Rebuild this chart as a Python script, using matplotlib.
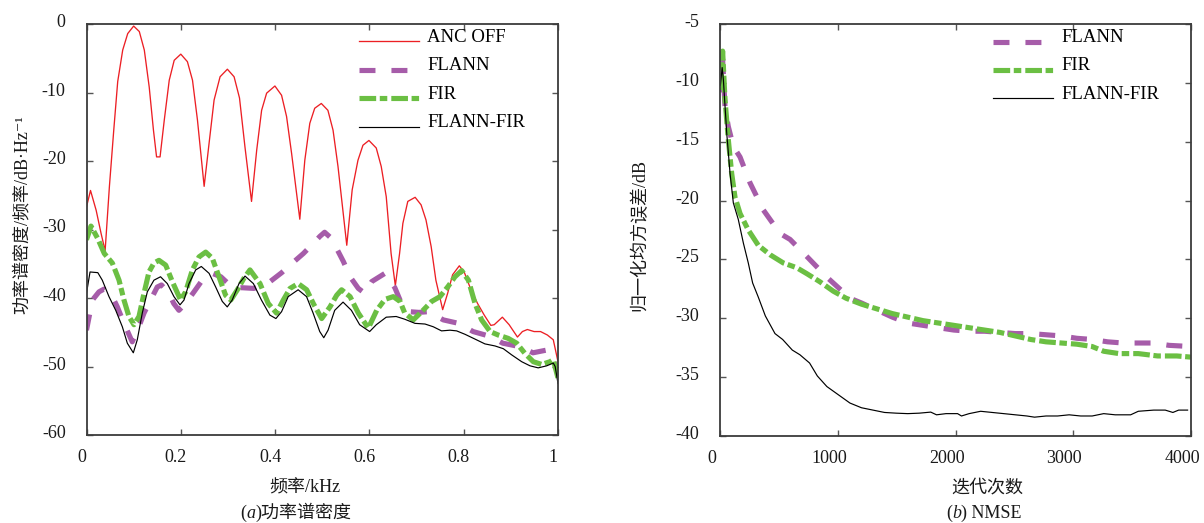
import matplotlib
matplotlib.use("Agg")
import matplotlib.pyplot as plt
from matplotlib.transforms import ScaledTranslation

plt.rcParams["font.family"] = ["Liberation Serif", "Noto Sans CJK SC", "DejaVu Sans"]
plt.rcParams["axes.unicode_minus"] = False
plt.rcParams["lines.scale_dashes"] = False

# ---------------- (a) power spectral density ----------------
f_off = [0, 0.0085, 0.0205, 0.031, 0.0395, 0.0486, 0.0578, 0.0662, 0.0768, 0.0874,
         0.100, 0.112, 0.1226, 0.133, 0.142, 0.1486, 0.156, 0.165, 0.1755, 0.186,
         0.200, 0.214, 0.2248, 0.2353, 0.2495, 0.260, 0.2706, 0.2833, 0.2988, 0.313,
         0.3245, 0.336, 0.350, 0.361, 0.3714, 0.382, 0.3996, 0.4137, 0.4243, 0.435,
         0.4524, 0.463, 0.4736, 0.484, 0.498, 0.512, 0.5229, 0.5334, 0.552, 0.5635,
         0.5757, 0.5863, 0.599, 0.6145, 0.6251, 0.6357, 0.646, 0.655, 0.664, 0.671,
         0.6814, 0.697, 0.7096, 0.720, 0.731, 0.741, 0.7554, 0.766, 0.7765, 0.7907,
         0.801, 0.8154, 0.8294, 0.8436, 0.8576, 0.8647, 0.882, 0.8964, 0.914, 0.9245,
         0.935, 0.9493, 0.963, 0.9774, 0.990, 1.0]
psd_off = [-26.7, -24.3, -27.2, -30.6, -33.1, -23.7, -15.5, -8.4, -3.8, -1.4,
           -0.3, -1.1, -3.8, -9.2, -15.5, -19.4, -19.4, -14.0, -8.2, -5.3,
           -4.4, -5.5, -8.2, -14.0, -23.7, -17.4, -11.1, -7.7, -6.6, -7.7,
           -10.8, -17.9, -25.9, -18.4, -12.6, -10.1, -9.05, -10.4, -13.5, -18.9,
           -28.5, -19.9, -14.5, -12.3, -11.6, -12.6, -15.5, -20.8, -32.3, -24.2,
           -19.9, -17.7, -17.0, -18.1, -20.8, -25.2, -33.5, -38.2, -33.5, -29.1,
           -25.9, -25.3, -26.4, -28.6, -32.5, -37.4, -41.7, -39.3, -36.6, -35.3,
           -36.2, -38.8, -40.8, -42.5, -44.0, -43.9, -42.8, -43.9, -45.7, -44.9,
           -44.6, -44.9, -44.9, -45.4, -46.1, -49.3]

f_flann = [0, 0.0125, 0.0265, 0.0371, 0.0513, 0.0654, 0.0795, 0.097, 0.111, 0.122,
           0.136, 0.150, 0.159, 0.1748, 0.185, 0.196, 0.210, 0.228, 0.2455, 0.2667,
           0.285, 0.31, 0.33, 0.355, 0.382, 0.414, 0.44, 0.46, 0.48, 0.495,
           0.505, 0.518, 0.53, 0.545, 0.559, 0.5765, 0.59, 0.605, 0.633, 0.654,
           0.668, 0.685, 0.705, 0.724, 0.757, 0.789, 0.82, 0.856, 0.883, 0.919,
           0.947, 0.976, 0.99, 1.0]
psd_flann = [-44.7, -40.3, -39.1, -38.7, -39.3, -41.3, -43.7, -46.4, -44.2, -42.2,
             -40.3, -38.4, -38.1, -39.3, -40.8, -41.8, -40.8, -39.1, -37.4, -36.4,
             -36.9, -38.5, -38.5, -38.6, -38.0, -36.3, -34.7, -33.5, -32.1, -31.0,
             -30.4, -31.2, -32.7, -34.7, -36.9, -38.6, -39.3, -37.6, -36.4, -38.5,
             -40.8, -42.0, -42.1, -42.0, -43.2, -43.7, -44.9, -45.6, -46.6, -47.1,
             -48.0, -47.6, -49.0, -50.3]

f_fir = [0, 0.0095, 0.0237, 0.0377, 0.0548, 0.069, 0.0795, 0.090, 0.1007, 0.1113,
         0.122, 0.1325, 0.143, 0.1537, 0.168, 0.182, 0.1996, 0.2102, 0.2246, 0.2386,
         0.2528, 0.2669, 0.281, 0.295, 0.306, 0.320, 0.334, 0.3467, 0.368, 0.3855,
         0.403, 0.4174, 0.4316, 0.449, 0.467, 0.481, 0.4988, 0.5164, 0.5306, 0.541,
         0.559, 0.5765, 0.5977, 0.6155, 0.633, 0.6507, 0.665, 0.675, 0.693, 0.711,
         0.732, 0.7497, 0.767, 0.7815, 0.7957, 0.810, 0.824, 0.838, 0.856, 0.873,
         0.8945, 0.9124, 0.930, 0.9476, 0.9654, 0.983, 0.990, 1.0]
psd_fir = [-31.5, -29.5, -31.3, -33.5, -34.9, -37.4, -40.3, -42.7, -43.9, -42.7,
           -39.3, -36.2, -34.9, -34.5, -35.2, -37.6, -40.3, -39.1, -35.9, -34.0,
           -33.3, -34.2, -36.9, -39.6, -40.3, -38.8, -37.1, -35.9, -37.9, -40.8,
           -42.2, -40.3, -38.6, -37.9, -38.8, -40.8, -43.0, -41.3, -39.6, -38.8,
           -39.8, -42.2, -44.4, -41.8, -40.2, -39.8, -40.5, -42.2, -43.2, -42.0,
           -40.5, -39.8, -38.3, -36.9, -36.0, -37.4, -40.8, -43.2, -44.9, -45.4,
           -45.9, -46.6, -48.1, -49.3, -49.7, -49.3, -49.0, -51.7]

f_hyb = [0, 0.0075, 0.024, 0.0335, 0.0477, 0.062, 0.076, 0.0866, 0.0993, 0.1077,
         0.1183, 0.129, 0.143, 0.157, 0.1714, 0.1855, 0.1983, 0.2068, 0.2174, 0.2316,
         0.2435, 0.260, 0.274, 0.288, 0.2985, 0.309, 0.3234, 0.3362, 0.354, 0.371,
         0.389, 0.4017, 0.4137, 0.4278, 0.4489, 0.4667, 0.4806, 0.4947, 0.5032, 0.5123,
         0.5264, 0.5441, 0.5618, 0.5793, 0.6005, 0.6146, 0.6357, 0.6568, 0.675, 0.6966,
         0.718, 0.7355, 0.753, 0.771, 0.785, 0.8028, 0.824, 0.845, 0.8664, 0.884,
         0.9017, 0.923, 0.9406, 0.958, 0.976, 0.990, 0.994, 1.0]
psd_hyb = [-39.3, -36.2, -36.3, -37.4, -39.8, -41.8, -44.2, -46.6, -48.0, -46.1,
           -42.2, -39.1, -37.4, -36.9, -37.9, -39.8, -41.0, -40.3, -37.9, -35.9,
           -35.4, -36.4, -38.4, -40.5, -41.3, -40.3, -37.9, -36.8, -37.9, -40.3,
           -42.5, -43.0, -42.0, -39.8, -38.8, -39.8, -42.2, -44.9, -45.8, -44.7,
           -41.8, -40.6, -41.8, -43.9, -44.9, -43.9, -42.8, -42.7, -43.1, -43.7,
           -43.8, -44.2, -44.8, -44.7, -44.8, -45.3, -46.0, -46.7, -47.0, -47.4,
           -48.3, -49.3, -49.9, -50.2, -49.9, -49.5, -50.0, -52.5]

# ---------------- (b) NMSE learning curves ----------------
it_flann = [0, 19, 39, 67, 110, 167, 252, 365, 507, 592, 720, 904, 1102, 1199, 1330,
            1461, 1592, 1722, 1853, 1984, 2114, 2245, 2376, 2507, 2637, 2768, 2899,
            3029, 3160, 3291, 3422, 3552, 3683, 3814, 4000]
nmse_flann = [-10.8, -8.0, -12.0, -13.7, -15.4, -16.3, -18.5, -20.8, -22.8, -23.3, -24.6,
              -26.5, -28.3, -28.7, -29.3, -29.9, -30.4, -30.6, -30.8, -31.0, -31.1,
              -31.1, -31.2, -31.3, -31.3, -31.4, -31.5, -31.7, -31.8, -32.0, -32.1,
              -32.1, -32.1, -32.3, -32.4]

it_fir = [0, 19, 39, 67, 96, 124, 167, 237, 322, 422, 535, 648, 733, 846, 960, 1069,
          1199, 1330, 1461, 1592, 1722, 1853, 1984, 2114, 2245, 2376, 2507, 2637,
          2768, 2899, 3029, 3160, 3258, 3389, 3552, 3716, 3879, 4000]
nmse_fir = [-10.6, -7.3, -11.4, -14.8, -17.7, -19.7, -21.1, -22.5, -23.8, -24.6, -25.3,
            -25.7, -26.2, -26.9, -27.7, -28.3, -28.8, -29.2, -29.6, -29.9, -30.2,
            -30.4, -30.6, -30.8, -31.0, -31.2, -31.5, -31.8, -32.0, -32.1, -32.2,
            -32.4, -32.8, -33.0, -33.0, -33.2, -33.2, -33.3]

it_hyb = [0, 15, 25, 54, 82, 110, 152, 195, 237, 274, 322, 382, 464, 529, 611, 676,
          758, 824, 905, 1003, 1101, 1199, 1297, 1395, 1494, 1592, 1690, 1788, 1837,
          1918, 2016, 2049, 2114, 2212, 2310, 2409, 2507, 2605, 2670, 2768, 2866,
          2964, 3062, 3160, 3258, 3356, 3487, 3552, 3683, 3781, 3846, 3895, 3971]
nmse_hyb = [-10.2, -8.7, -9.7, -14.3, -17.7, -20.2, -21.6, -23.6, -25.3, -27.0, -28.2,
            -29.8, -31.3, -31.8, -32.7, -33.1, -33.8, -34.9, -35.8, -36.5, -37.2,
            -37.6, -37.8, -38.0, -38.06, -38.1, -38.06, -37.97, -38.2, -38.1, -38.1,
            -38.3, -38.1, -37.9, -38.0, -38.1, -38.2, -38.3, -38.4, -38.3, -38.3,
            -38.2, -38.3, -38.3, -38.1, -38.2, -38.2, -37.9, -37.8, -37.8, -38.0,
            -37.8, -37.8]

freq_ticks = [0, 0.2, 0.4, 0.6, 0.8, 1.0]
freq_labels = ["0", "0.2", "0.4", "0.6", "0.8", "1"]
psd_ticks = [0, -10, -20, -30, -40, -50, -60]
iter_ticks = [0, 1000, 2000, 3000, 4000]
nmse_ticks = [-5, -10, -15, -20, -25, -30, -35, -40]

RED = "#ec1f24"
PURPLE = "#a65ca9"
GREEN = "#6bbf43"
DASH_FLANN = (0, (11.5, 11.5))
DASH_FIR = (0, (12.0, 2.6, 5.4, 2.9))

W, H = 1204, 523
fig = plt.figure(figsize=(W / 100, H / 100), dpi=100)


def px_rect(left, top, right, bottom):
    return [left / W, 1 - bottom / H, (right - left) / W, (bottom - top) / H]


ax1 = fig.add_axes(px_rect(86.5, 24, 558, 435))
ax2 = fig.add_axes(px_rect(720.4, 24, 1191, 436))

ax1.plot(f_off, psd_off, color=RED, lw=0.95, label="ANC OFF")
ax1.plot(f_flann, psd_flann, color=PURPLE, lw=3.7, linestyle=DASH_FLANN, label="FLANN")
ax1.plot(f_fir, psd_fir, color=GREEN, lw=3.7, linestyle=DASH_FIR, label="FIR")
ax1.plot(f_hyb, psd_hyb, color="black", lw=0.85, label="FLANN-FIR")

ax2.plot(it_flann, nmse_flann, color=PURPLE, lw=3.7, linestyle=DASH_FLANN, label="FLANN")
ax2.plot(it_fir, nmse_fir, color=GREEN, lw=3.7, linestyle=DASH_FIR, label="FIR")
ax2.plot(it_hyb, nmse_hyb, color="black", lw=0.85, label="FLANN-FIR")

ax1.set_xlim(0, 1)
ax1.set_ylim(-60, 0)
ax1.set_xticks(freq_ticks)
ax1.set_xticklabels(freq_labels)
ax1.set_yticks(psd_ticks)
ax1.set_yticklabels([str(v) for v in psd_ticks])

ax2.set_xlim(0, 4000)
ax2.set_ylim(-40, -5)
ax2.set_xticks(iter_ticks)
ax2.set_xticklabels([str(v) for v in iter_ticks])
ax2.set_yticks(nmse_ticks)
ax2.set_yticklabels([str(v) for v in nmse_ticks])


def px_shift(dx, dy):
    return ScaledTranslation(dx / 100, dy / 100, fig.dpi_scale_trans)


def style_axes(ax, xshift_px):
    for sp in ax.spines.values():
        sp.set_color("#3c3c3c")
        sp.set_linewidth(1.3)
    ax.tick_params(axis="both", direction="in", top=True, right=True,
                   length=4, width=1.0, color="#555555", labelsize=13,
                   labelcolor="#1a1a1a")
    ax.tick_params(axis="x", pad=10)
    ax.tick_params(axis="y", pad=15)
    for t in ax.xaxis.get_major_ticks():
        t.label1.set_transform(t.label1.get_transform() + px_shift(xshift_px, 0))
    for t in ax.yaxis.get_major_ticks():
        t.label1.set_transform(t.label1.get_transform() + px_shift(0, 3.5))


style_axes(ax1, -5)
style_axes(ax2, -9)

leg_kw = dict(loc="upper left", frameon=False, fontsize=13.5, handlelength=3.2,
              handletextpad=0.45, labelspacing=0.6, borderpad=0, borderaxespad=0)
for ax, x0 in ((ax1, 0.578), (ax2, 0.579)):
    leg = ax.legend(bbox_to_anchor=(x0, 0.988), **leg_kw)
    # legend samples sit a little below their labels
    for ln in leg.get_lines():
        ln.set_transform(ln.get_transform() + px_shift(0, -6))


def fig_text(x, y, s, **kw):
    return fig.text(x / W, 1 - y / H, s, fontsize=13, color="#1a1a1a", **kw)


fig_text(22, 215, "功率谱密度/频率/dB·Hz⁻¹", rotation=90, ha="center", va="center")
fig_text(640, 235, "归一化均方误差/dB", rotation=90, ha="center", va="center")
fig_text(305, 488, "频率/kHz", ha="center", va="center")
fig_text(987, 488, "迭代次数", ha="center", va="center")

renderer = fig.canvas.get_renderer()


def caption(x_left, y_base, parts):
    x = x_left
    for s, st in parts:
        t = fig_text(x, y_base, s, ha="left", va="baseline", style=st)
        x += t.get_window_extent(renderer).width


caption(240, 518, [("(", "normal"), ("a", "italic"), (")功率谱密度", "normal")])
caption(946, 518, [("(", "normal"), ("b", "italic"), (") NMSE", "normal")])

fig.savefig("out.png", dpi=100, facecolor="white")
